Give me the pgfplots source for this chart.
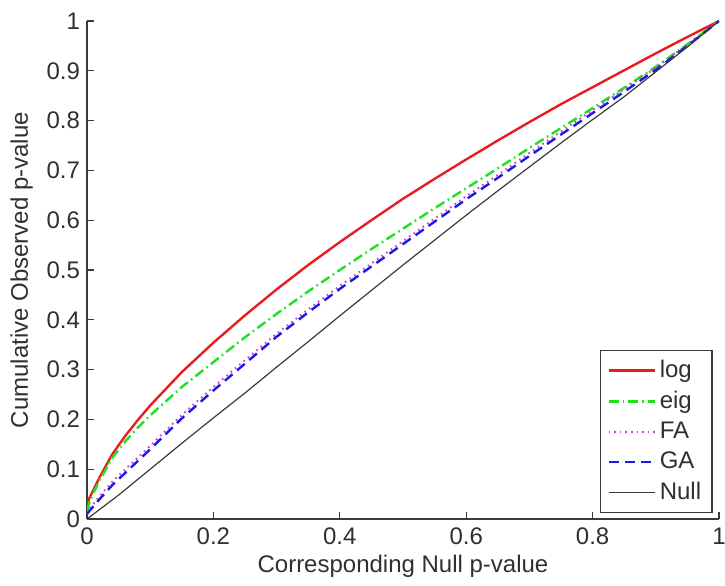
\documentclass[border=0pt]{standalone}
\usepackage{pgfplots}
\pgfplotsset{compat=1.18}
\usepackage{fontspec}
\setmainfont{Liberation Sans}
\definecolor{mred}{HTML}{E81E1E}
\definecolor{mgreen}{HTML}{1EE01E}
\definecolor{mblue}{HTML}{1A1AE8}
\definecolor{mmag}{HTML}{CC44CC}
\definecolor{mgray}{HTML}{3A3A3A}
\definecolor{txt}{HTML}{303030}
\begin{document}
\begin{tikzpicture}
\begin{axis}[
  scale only axis, width=316pt, height=249pt,
  xmin=0, xmax=1, ymin=0, ymax=1,
  axis lines*=left,
  axis line style={mgray, line width=0.6pt},
  tick style={mgray, line width=0.6pt},
  tick align=inside, major tick length=3.3pt,
  xtick={0,0.2,0.4,0.6,0.8,1},
  ytick={0,0.1,0.2,0.3,0.4,0.5,0.6,0.7,0.8,0.9,1},
  /pgf/number format/assume math mode=true,
  ticklabel style={font=\fontsize{12}{14}\selectfont, text=txt},
  xticklabel style={yshift=-1pt},
  label style={font=\fontsize{12}{14}\selectfont, text=txt},
  xlabel={Corresponding Null p-value},
  ylabel={Cumulative Observed p-value},
  xlabel style={yshift=2pt},
  ylabel style={yshift=0pt},
  legend image code/.code={\draw[#1] (0pt,0pt) -- (23pt,0pt);},
  legend style={at={(rel axis cs:0.99,0.012)}, anchor=south east,
    draw=mgray, line width=0.6pt, font=\fontsize{12}{14}\selectfont, text=txt,
    row sep=1.2pt, inner xsep=3.5pt, inner ysep=3pt},
  legend cell align=left,
]
\addplot[mred, line width=1.2pt] coordinates {
(0,0.022) (0.003,0.04) (0.01,0.058) (0.02,0.084) (0.04,0.13) (0.06,0.166) (0.08,0.198) (0.1,0.228) (0.15,0.295) (0.2,0.354) (0.25,0.409) (0.3,0.461) (0.35,0.51) (0.4,0.556) (0.45,0.6) (0.5,0.643) (0.55,0.683) (0.6,0.722) (0.65,0.76) (0.7,0.797) (0.75,0.833) (0.8,0.867) (0.85,0.901) (0.9,0.935) (0.95,0.968) (1,1)};
\addlegendentry{log}
\addplot[mgreen, line width=1.2pt, dash pattern=on 5pt off 2pt on 0.8pt off 2pt] coordinates {
(0,0.015) (0.003,0.03) (0.01,0.052) (0.02,0.078) (0.04,0.123) (0.06,0.155) (0.08,0.183) (0.1,0.208) (0.15,0.265) (0.2,0.315) (0.25,0.365) (0.3,0.412) (0.35,0.457) (0.4,0.5) (0.45,0.542) (0.5,0.583) (0.55,0.624) (0.6,0.664) (0.65,0.704) (0.7,0.745) (0.75,0.785) (0.8,0.825) (0.85,0.866) (0.9,0.908) (0.95,0.953) (1,1)};
\addlegendentry{eig}
\addplot[mmag, line width=1pt, dash pattern=on 0.8pt off 2pt] coordinates {
(0,0.012) (0.005,0.022) (0.01,0.03) (0.02,0.046) (0.04,0.075) (0.06,0.099) (0.08,0.123) (0.1,0.147) (0.15,0.209) (0.2,0.265) (0.25,0.319) (0.3,0.372) (0.35,0.421) (0.4,0.468) (0.45,0.513) (0.5,0.558) (0.55,0.603) (0.6,0.648) (0.65,0.691) (0.7,0.735) (0.75,0.778) (0.8,0.821) (0.85,0.863) (0.9,0.906) (0.95,0.953) (1,1)};
\addlegendentry{FA}
\addplot[mblue, line width=1.2pt, dash pattern=on 5pt off 3pt] coordinates {
(0,0.01) (0.005,0.018) (0.01,0.025) (0.02,0.04) (0.04,0.068) (0.06,0.092) (0.08,0.116) (0.1,0.14) (0.15,0.202) (0.2,0.258) (0.25,0.312) (0.3,0.366) (0.35,0.415) (0.4,0.462) (0.45,0.507) (0.5,0.552) (0.55,0.597) (0.6,0.642) (0.65,0.685) (0.7,0.729) (0.75,0.772) (0.8,0.815) (0.85,0.858) (0.9,0.902) (0.95,0.95) (1,1)};
\addlegendentry{GA}
\addplot[mgray, line width=0.6pt] coordinates {
(0,0) (0.05,0.048) (0.1,0.1) (0.15,0.152) (0.2,0.203) (0.25,0.253) (0.3,0.305) (0.35,0.356) (0.4,0.408) (0.45,0.459) (0.5,0.51) (0.55,0.56) (0.6,0.61) (0.65,0.659) (0.7,0.707) (0.75,0.755) (0.8,0.802) (0.85,0.848) (0.9,0.898) (0.95,0.948) (1,1)};
\addlegendentry{Null}
\coordinate (sw) at (rel axis cs:0,0);
\coordinate (ne) at (rel axis cs:1,1);
\end{axis}
\pgfresetboundingbox
\useasboundingbox ([shift={(-43.5pt,-33.5pt)}]sw) rectangle ([shift={(3pt,10.5pt)}]ne);
\end{tikzpicture}
\end{document}
